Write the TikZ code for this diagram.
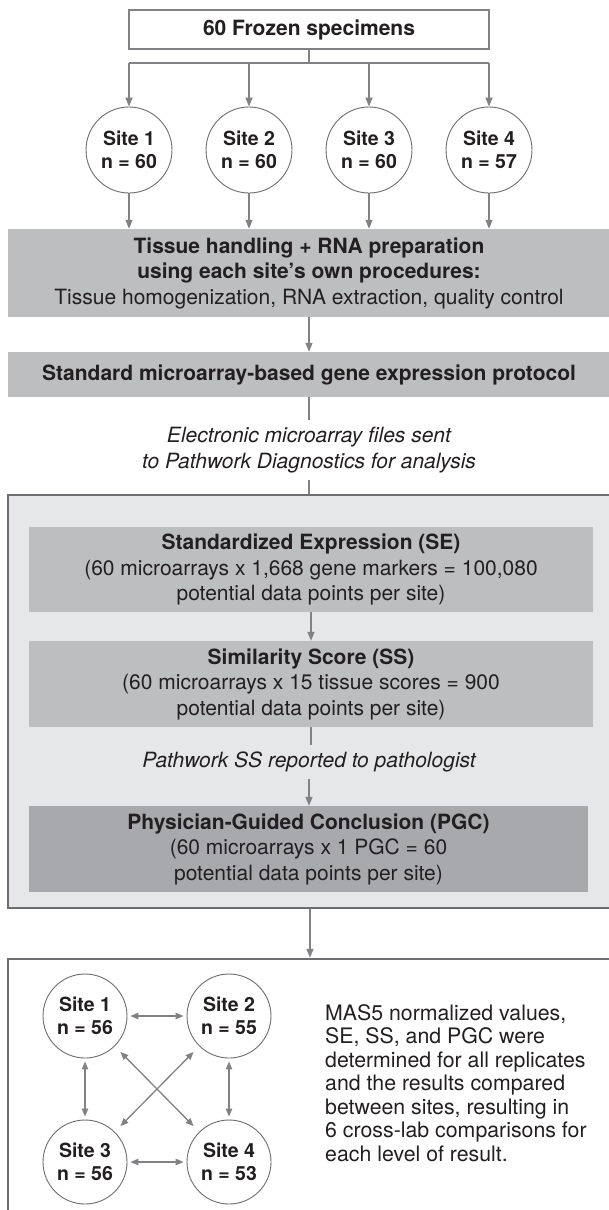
\documentclass[tikz,border=0pt]{standalone}
\usepackage{fontspec}
\setmainfont{TeX Gyre Heros}
\usetikzlibrary{arrows.meta}
\definecolor{txt}{HTML}{231F20}
\definecolor{conn}{HTML}{808285}
\definecolor{edge}{HTML}{6D6E71}
\definecolor{boxgray}{HTML}{BCBEC0}
\definecolor{pgcgray}{HTML}{A7A9AC}
\definecolor{panel}{HTML}{E6E7E8}
\begin{document}
\begin{tikzpicture}[x=1pt,y=-1pt,
  every node/.style={text=txt, font=\fontsize{21}{25.5}\selectfont, align=center, inner sep=0pt},
  conn/.style={draw=conn, line width=1.3pt},
  arr/.style={conn, -{Triangle[length=9pt,width=7pt]}},
  darr/.style={conn, {Triangle[length=8pt,width=6.5pt]}-{Triangle[length=8pt,width=6.5pt]}},
  site/.style={circle, draw=edge, line width=0.9pt, fill=white, minimum size=86pt,
    font=\fontsize{19.5}{23}\selectfont\bfseries},
  band/.style={fill=boxgray, minimum width=602pt, minimum height=#1},
  step box/.style={fill=boxgray, minimum width=564pt, minimum height=#1},
  panelbox/.style={draw=edge, line width=2.5pt, minimum width=604pt},
  ital/.style={font=\fontsize{21}{25.5}\selectfont\itshape}
]
\clip (0,0) rectangle (609,1210);
\fill[white] (0,0) rectangle (609,1210);

% top
\node[draw=conn, line width=1.2pt, minimum width=360pt, minimum height=39pt,
  font=\fontsize{21}{25.5}\selectfont\bfseries] (frozen) at (309,29.5) {60 Frozen specimens};
\coordinate (branch) at (309,63);
\node[site] (s1) at (129,150) {Site 1\\n = 60};
\node[site] (s2) at (249,150) {Site 2\\n = 60};
\node[site] (s3) at (369,150) {Site 3\\n = 60};
\node[site] (s4) at (489,150) {Site 4\\n = 57};
\draw[conn] (frozen.south) -- (branch);
\draw[conn] (s1 |- branch) -- (s4 |- branch);
\foreach \s in {s1,s2,s3,s4} \draw[arr] (\s |- branch) -- (\s.north);

% tissue
\node[band=88pt] (tissue) at (309,273) {\textbf{Tissue handling + RNA preparation}\\
  \textbf{using each site’s own procedures:}\\
  Tissue homogenization, RNA extraction, quality control};
\foreach \s in {s1,s2,s3,s4} \draw[arr] (\s.south) -- (\s.south |- tissue.north);

\node[band=45pt, font=\fontsize{21}{25.5}\selectfont\bfseries] (standard) at (309,374.5)
  {Standard microarray-based gene expression protocol};
\draw[arr] (tissue.south) -- (standard.north);

\node[ital] (elec) at (309,450) {Electronic microarray files sent\\to Pathwork Diagnostics for analysis};
\coordinate (e1) at (309,420);
\coordinate (e2) at (309,480);
\draw[conn] (standard.south) -- (e1);

% analysis panel
\node[panelbox, fill=panel, minimum height=413pt] (analysis) at (310,701.5) {};
\draw[conn] (e2) -- (e2 |- analysis.north);

\node[step box=85pt] (se) at (311,569.5) {\textbf{Standardized Expression (SE)}\\
  (60 microarrays x 1,668 gene markers = 100,080\\potential data points per site)};
\node[step box=86pt] (ss) at (311,684) {\textbf{Similarity Score (SS)}\\
  (60 microarrays x 15 tissue scores = 900\\potential data points per site)};
\draw[arr] (se.south) -- (ss.north);
\node[ital, inner ysep=7pt] (rep) at (309,762) {Pathwork SS reported to pathologist};
\node[fill=pgcgray, minimum width=559pt, minimum height=86pt] (pgc) at (308.5,849)
  {\textbf{Physician-Guided Conclusion (PGC)}\\(60 microarrays x 1 PGC = 60\\potential data points per site)};
\draw[conn] (ss.south) -- (ss.south |- rep.north);
\draw[arr] (rep.south) -- (rep.south |- pgc.north);

% results panel
\node[panelbox, fill=white, minimum height=300pt] (results) at (310,1109) {};
\draw[arr] (analysis.south) -- (analysis.south |- results.north);

\node[site, minimum size=84pt] (b1) at (85,1016) {Site 1\\n = 56};
\node[site, minimum size=84pt] (b2) at (229,1016) {Site 2\\n = 55};
\node[site, minimum size=84pt] (b3) at (85,1162) {Site 3\\n = 56};
\node[site, minimum size=84pt] (b4) at (229,1162) {Site 4\\n = 53};
\draw[darr, shorten <=3pt, shorten >=3pt] (b1) -- (b2);
\draw[darr, shorten <=3pt, shorten >=3pt] (b3) -- (b4);
\draw[darr, shorten <=3pt, shorten >=3pt] (b1) -- (b3);
\draw[darr, shorten <=3pt, shorten >=3pt] (b2) -- (b4);
\draw[darr, shorten <=8pt, shorten >=8pt] (b1) -- (b4);
\draw[darr, shorten <=8pt, shorten >=8pt] (b2) -- (b3);

\node[anchor=north west, align=left, font=\fontsize{21.3}{23.5}\selectfont] (desc) at (325,1004)
  {MAS5 normalized values,\\SE, SS, and PGC were\\determined for all replicates\\and the results compared\\between sites, resulting in\\6 cross-lab comparisons for\\each level of result.};
\end{tikzpicture}
\end{document}
